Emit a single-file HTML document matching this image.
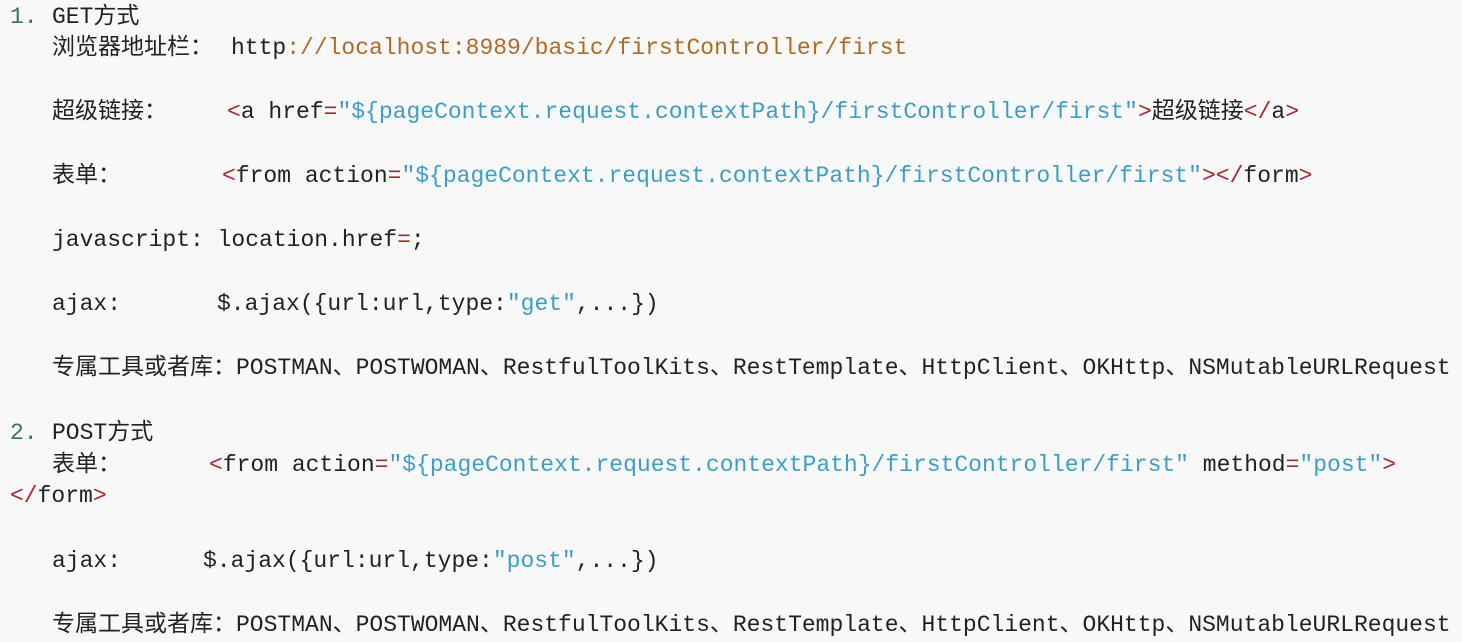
<!DOCTYPE html>
<html><head><meta charset="utf-8"><style>
html,body{margin:0;padding:0;}
body{width:1462px;height:642px;background:#f8f8f8;position:relative;overflow:hidden;
font-family:"Liberation Mono","Noto Sans CJK SC",monospace;font-size:23px;color:#222;}
.l{position:absolute;white-space:pre;line-height:30px;height:30px;}
.g{color:#2f7a55}.o{color:#b06a22}.r{color:#a8262b}.b{color:#3c9ec6}
</style></head><body>
<div class="l" style="left:10px;top:2px"><span class="g">1.</span></div>
<div class="l" style="left:52px;top:2px">GET方式</div>
<div class="l" style="left:52px;top:33px">浏览器地址栏：</div>
<div class="l" style="left:231px;top:33px">http<span class="o">://localhost:8989/basic/firstController/first</span></div>

<div class="l" style="left:52px;top:97px">超级链接：</div>
<div class="l" style="left:227px;top:97px"><span class="r">&lt;</span>a href<span class="r">=</span><span class="b">"${pageContext.request.contextPath}/firstController/first"</span><span class="r">&gt;</span>超级链接<span class="r">&lt;/</span>a<span class="r">&gt;</span></div>

<div class="l" style="left:52px;top:161px">表单：</div>
<div class="l" style="left:222px;top:161px"><span class="r">&lt;</span>from action<span class="r">=</span><span class="b">"${pageContext.request.contextPath}/firstController/first"</span><span class="r">&gt;&lt;/</span>form<span class="r">&gt;</span></div>

<div class="l" style="left:52px;top:225px">javascript: location.href<span class="r">=</span>;</div>

<div class="l" style="left:52px;top:289px">ajax:</div>
<div class="l" style="left:217px;top:289px">$.ajax({url:url,type:<span class="b">"get"</span>,...})</div>

<div class="l" style="left:52px;top:353px">专属工具或者库：POSTMAN、POSTWOMAN、RestfulToolKits、RestTemplate、HttpClient、OKHttp、NSMutableURLRequest</div>

<div class="l" style="left:10px;top:418px"><span class="g">2.</span></div>
<div class="l" style="left:52px;top:418px">POST方式</div>
<div class="l" style="left:52px;top:450px">表单：</div>
<div class="l" style="left:209px;top:450px"><span class="r">&lt;</span>from action<span class="r">=</span><span class="b">"${pageContext.request.contextPath}/firstController/first"</span> method<span class="r">=</span><span class="b">"post"</span><span class="r">&gt;</span></div>
<div class="l" style="left:10px;top:481px"><span class="r">&lt;/</span>form<span class="r">&gt;</span></div>

<div class="l" style="left:52px;top:546px">ajax:</div>
<div class="l" style="left:203px;top:546px">$.ajax({url:url,type:<span class="b">"post"</span>,...})</div>

<div class="l" style="left:52px;top:610px">专属工具或者库：POSTMAN、POSTWOMAN、RestfulToolKits、RestTemplate、HttpClient、OKHttp、NSMutableURLRequest</div>
</body></html>
